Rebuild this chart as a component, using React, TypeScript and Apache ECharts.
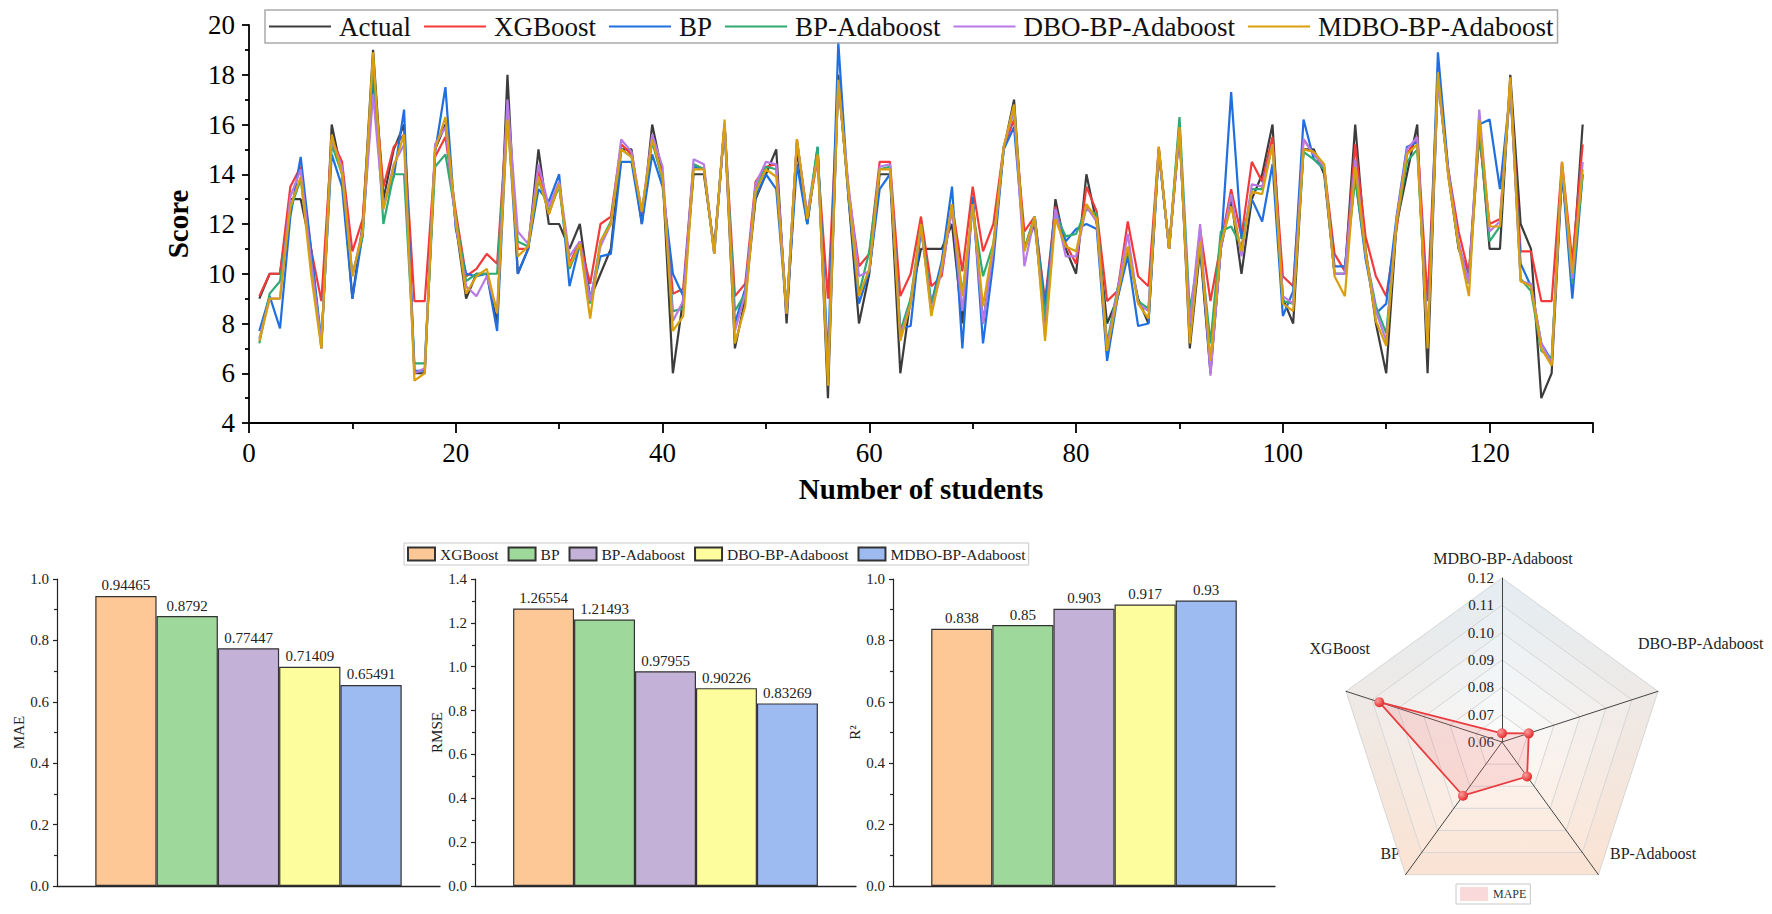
import React, { useEffect, useRef } from "react";
import * as echarts from "echarts";

const SERIF = "'Liberation Serif', 'Times New Roman', serif";

// ---- top chart: score per student (student 1..129) ----
const lineNames = ["Actual", "XGBoost", "BP", "BP-Adaboost", "DBO-BP-Adaboost", "MDBO-BP-Adaboost"];
const lineColors = ["#3c3c3c", "#f23a3a", "#1f6fe0", "#2faa72", "#b77ae6", "#d9a00c"];

const actual = [
  9, 10, 10, 13, 13, 11, 7, 16, 14, 9,
  12, 19, 13, 15, 16, 6, 6, 15, 16, 12,
  9, 10, 10, 8, 18, 10, 11, 15, 12, 12,
  11, 12, 9, 10, 11, 15, 15, 12, 16, 14,
  6, 9, 14, 14, 11, 16, 7, 9, 13, 14,
  15, 8, 15, 12, 15, 5, 18, 13, 8, 10,
  14, 14, 6, 9, 11, 11, 11, 12, 8, 13,
  8, 11, 15, 17, 11, 12, 8, 13, 11, 10,
  14, 12, 8, 9, 11, 9, 8, 15, 11, 16,
  7, 11, 6, 11, 13, 10, 13, 14, 16, 9,
  8, 15, 15, 14, 10, 10, 16, 11, 8, 6,
  12, 14, 16, 6, 18, 14, 11, 10, 16, 11,
  11, 18, 12, 11, 5, 6, 14, 10, 16,
];
const xgboost = [
  9.1, 10, 10, 13.5, 14.3, 11, 8.9, 15.4, 14.5, 10.9,
  12.2, 18.2, 13.5, 15.1, 15.6, 8.9, 8.9, 14.7, 15.5, 12.5,
  9.9, 10.2, 10.8, 10.4, 16.6, 11, 11, 14.2, 12.4, 13.6,
  10.4, 11.3, 9.6, 12.0, 12.3, 15.2, 14.8, 12.4, 15.4, 13.8,
  9.2, 9.4, 14.4, 14.2, 10.9, 16, 9.1, 9.6, 13.7, 14.3,
  14.4, 8.4, 15.4, 12.3, 14.6, 9, 17.7, 13.3, 10.3, 10.8,
  14.5, 14.5, 9.1, 10, 12.3, 9.5, 9.9, 12.8, 10.1, 13.5,
  10.9, 12, 15.1, 16.2, 11.7, 12.3, 8.9, 12.7, 11.2, 10.4,
  13.5, 12.5, 8.9, 9.3, 12.1, 9.9, 9.5, 15.1, 11, 15.7,
  7.7, 11.8, 8.9, 11.2, 13.4, 11.5, 14.5, 13.7, 15.5, 9.9,
  9.5, 15.4, 14.8, 14.3, 10.8, 10.1, 15.2, 11.5, 9.9, 9.1,
  11.8, 14.8, 15.5, 8.9, 17.9, 14.2, 11.7, 10, 15.5, 12,
  12.2, 17.6, 10.9, 10.9, 8.9, 8.9, 14.5, 10.5, 15.2,
];
const bp = [
  7.7, 9.1, 7.8, 12.3, 14.7, 11, 7.3, 14.8, 13.5, 9.0,
  11.6, 17.9, 12.8, 13.9, 16.6, 6.1, 6.1, 14.9, 17.5, 11.8,
  10, 9.9, 10, 7.7, 16.5, 10, 11, 13.4, 12.9, 14.0,
  9.5, 11.2, 9.0, 10.7, 10.8, 14.5, 14.5, 12.0, 14.8, 13.5,
  10, 9.1, 14.3, 14.2, 10.8, 16, 8.0, 9.4, 13.1, 14,
  13.4, 8.4, 14.4, 12.0, 15.1, 6.5, 19.3, 13, 8.8, 10.1,
  13.4, 14, 7.8, 7.9, 11.8, 8.8, 10.5, 13.5, 7.0, 13.1,
  7.2, 10.5, 15, 15.9, 11, 12.3, 8.7, 12.6, 11.3, 11.8,
  12, 11.8, 6.5, 9.0, 10.7, 7.9, 8.0, 14.9, 11, 15.7,
  7.7, 11.2, 6.1, 11, 17.3, 11.4, 13, 12.1, 14.4, 8.3,
  9.3, 16.2, 14.6, 14.2, 10.3, 10.3, 13.9, 10.6, 8.4, 8.8,
  12.3, 15.1, 15.3, 7.2, 18.9, 14.2, 11.1, 9.6, 16, 16.2,
  13.4, 17.4, 10.4, 9.5, 7.2, 6.5, 14.2, 9, 14,
];
const bpAdaboost = [
  7.2, 9.2, 9.7, 12.6, 13.8, 10.5, 7.2, 15.2, 14, 10,
  11.5, 18.6, 12.0, 14.0, 14.0, 6.4, 6.4, 14.3, 14.8, 12.3,
  9.7, 10, 10, 10, 16.4, 11.3, 11.1, 13.8, 12.5, 13.5,
  10.2, 11.2, 8.8, 11.3, 12.1, 15, 14.7, 12.5, 15.3, 13.8,
  8.5, 8.6, 14.4, 14.2, 10.9, 16, 8.5, 9.2, 13.4, 14.3,
  14.2, 8.5, 15.3, 12.3, 15.1, 6, 17.8, 13.2, 9.2, 10.9,
  14.2, 14.3, 7.7, 9.0, 12, 8.8, 10.2, 12.6, 9.2, 12.6,
  9.9, 11.2, 15.1, 16.6, 11, 12.3, 8.2, 12.4, 11.5, 11.6,
  12.6, 12.4, 7.2, 9.4, 11, 8.9, 8.6, 15.0, 11, 16.3,
  8.5, 11.2, 7.2, 11.7, 11.9, 11.1, 13.4, 13.4, 15.2, 8.9,
  8.8, 14.9, 14.6, 14.2, 10, 10, 13.8, 10.8, 8.7, 7.6,
  12, 14.5, 15, 7.3, 17.8, 14, 11.1, 9.6, 15.8, 11.3,
  11.9, 17.6, 9.8, 9.3, 6.9, 6.6, 14.3, 9.6, 14,
];
const dboBpAdaboost = [
  7.4, 9.0, 9.0, 13.1, 14.2, 10.5, 7.2, 15.4, 14.3, 9.9,
  11.8, 17.2, 12.6, 14.4, 15.2, 6.0, 6.2, 15.2, 15.9, 12.0,
  9.5, 9.1, 9.9, 8.5, 17, 11.7, 11.2, 14.4, 12.7, 13.7,
  10.7, 11.3, 8.9, 11.1, 12.0, 15.4, 14.9, 12.5, 15.6, 14.3,
  8.1, 8.9, 14.6, 14.4, 10.8, 16, 7.7, 9.2, 13.6, 14.5,
  14.4, 8.4, 15.3, 12.4, 14.7, 6, 17.7, 13.5, 9.9, 10.1,
  14.3, 14.4, 7.5, 8.8, 11.9, 8.5, 10.1, 12.6, 8.5, 12.8,
  8.0, 11, 15.1, 16.6, 10.3, 12.3, 7.5, 12.6, 10.7, 10.7,
  12.7, 12.1, 7.0, 9.3, 11.6, 8.8, 8.5, 15.0, 11, 15.8,
  8.0, 12, 5.9, 11, 13.2, 10.7, 13.6, 13.5, 15.2, 9.1,
  8.8, 15.4, 14.8, 14.3, 10, 10, 14.6, 10.8, 8.5, 7.3,
  12.2, 15, 15.5, 7.3, 17.8, 14.1, 11.3, 9.6, 16.6, 11.7,
  12.1, 17.6, 9.7, 9.6, 7.2, 6.4, 14.4, 9.8, 14.5,
];
const mdboBpAdaboost = [
  7.3, 9.0, 9.0, 12.7, 13.9, 10, 7.0, 15.6, 14, 9.9,
  11.7, 18.9, 12.6, 14.3, 15.6, 5.7, 6.0, 15.0, 16.3, 12.2,
  9.2, 9.9, 10.2, 8.4, 16.2, 10.7, 11.1, 13.9, 12.4, 13.6,
  10.3, 11.2, 8.2, 11.3, 12.0, 15.0, 14.7, 12.5, 15.4, 13.9,
  7.7, 8.3, 14.2, 14.2, 10.8, 16.2, 7.2, 8.7, 13.3, 14.2,
  13.9, 8.4, 15.4, 12.2, 14.8, 5.5, 17.8, 13.2, 9.1, 10.2,
  14.2, 14.2, 7.3, 8.8, 12, 8.3, 10.3, 12.8, 9.1, 12.8,
  8.7, 11.2, 15.1, 16.8, 10.9, 12.3, 7.3, 12.2, 11.1, 10.9,
  12.8, 12.2, 6.9, 9.1, 11.1, 8.8, 8.2, 15.1, 11, 15.9,
  7.2, 11.3, 6.5, 11.2, 12.7, 10.9, 13.3, 13.2, 15.2, 8.8,
  8.5, 15.0, 14.9, 14.4, 9.9, 9.1, 14.3, 10.9, 8.1, 7.1,
  12.1, 14.8, 15.2, 7.0, 18.1, 13.9, 11.1, 9.1, 16.2, 11.9,
  11.9, 17.9, 9.7, 9.5, 7.0, 6.3, 14.5, 10, 14.2,
];
const lineData = [actual, xgboost, bp, bpAdaboost, dboBpAdaboost, mdboBpAdaboost];

// ---- bottom charts: error metrics per model ----
const models = ["XGBoost", "BP", "BP-Adaboost", "DBO-BP-Adaboost", "MDBO-BP-Adaboost"];
const barColors = ["#fdc896", "#9fd89b", "#c4b1d8", "#fefd9e", "#9dbbf1"];
const mae = [0.94465, 0.8792, 0.77447, 0.71409, 0.65491];
const rmse = [1.26554, 1.21493, 0.97955, 0.90226, 0.83269];
const r2 = [0.838, 0.85, 0.903, 0.917, 0.93];
const metricNames = ["MAE", "RMSE", "R²"];
const metricMax = [1.0, 1.4, 1.0];

// radar, counter-clockwise from the top
const radarModels = ["MDBO-BP-Adaboost", "XGBoost", "BP", "BP-Adaboost", "DBO-BP-Adaboost"];
const mape = [0.0632, 0.1072, 0.0843, 0.0756, 0.0703];
const mapeMin = 0.06;
const mapeMax = 0.12;

function TopChart() {
  const ref = useRef<HTMLDivElement>(null);

  useEffect(() => {
    if (!ref.current) return;
    const chart = echarts.init(ref.current, undefined, { renderer: "svg" });
    const axisLine = { lineStyle: { color: "#000", width: 1.8 } };

    chart.setOption({
      animation: false,
      backgroundColor: "#fff",
      grid: { left: 249, top: 25, width: 1344, height: 398 },
      legend: {
        data: lineNames,
        left: 265,
        top: 10,
        padding: [3, 4, 3, 3],
        itemWidth: 62,
        itemHeight: 14,
        itemGap: 12,
        borderColor: "#aaa",
        borderWidth: 1.5,
        selectedMode: false,
        // line-only keys, no marker dot
        itemStyle: { opacity: 0 },
        textStyle: { fontFamily: SERIF, fontSize: 27, color: "#111", padding: [0, 0, 0, 3] },
      },
      xAxis: {
        type: "value",
        min: 0,
        max: 130,
        interval: 20,
        name: "Number of students",
        nameLocation: "middle",
        nameGap: 51,
        nameTextStyle: { fontFamily: SERIF, fontSize: 29, fontWeight: "bold", color: "#000" },
        axisLine: { show: true, ...axisLine },
        axisTick: { show: true, length: 10, ...axisLine },
        minorTick: { show: true, splitNumber: 2, length: 6, ...axisLine },
        splitLine: { show: false },
        axisLabel: { fontFamily: SERIF, fontSize: 27, color: "#000", margin: 16, showMaxLabel: false },
      },
      yAxis: {
        type: "value",
        min: 4,
        max: 20,
        interval: 2,
        name: "Score",
        nameLocation: "middle",
        nameGap: 57,
        nameTextStyle: { fontFamily: SERIF, fontSize: 29, fontWeight: "bold", color: "#000" },
        axisLine: { show: true, ...axisLine },
        axisTick: { show: true, length: 7, ...axisLine },
        minorTick: { show: true, splitNumber: 2, length: 4, ...axisLine },
        splitLine: { show: false },
        axisLabel: { fontFamily: SERIF, fontSize: 27, color: "#000", margin: 14 },
      },
      series: lineNames.map((name, k) => ({
        type: "line",
        name,
        data: lineData[k].map((v, i) => [i + 1, v]),
        symbol: "none",
        color: lineColors[k],
        lineStyle: { color: lineColors[k], width: 2.2 },
      })),
    });

    return () => chart.dispose();
  }, []);

  return <div ref={ref} style={{ position: "absolute", left: 0, top: 0, width: 1772, height: 530 }} />;
}

function BottomChart() {
  const ref = useRef<HTMLDivElement>(null);

  useEffect(() => {
    if (!ref.current) return;
    const chart = echarts.init(ref.current, undefined, { renderer: "svg" });
    const metrics = [mae, rmse, r2];
    const gridLeft = [57, 475, 893];
    const gridWidth = [383, 381, 382];
    const dark = { color: "#222", width: 1.2 };

    const ringFills = [0.2, 0.32, 0.44, 0.56, 0.68, 0.8].map(
      (a) =>
        new echarts.graphic.LinearGradient(0, 0, 0, 1, [
          { offset: 0, color: `rgba(222,233,240,${a})` },
          { offset: 1, color: `rgba(250,220,200,${a})` },
        ])
    );

    // radar names placed where the original figure put them
    const radarNameSpots = [
      { x: 1503, y: 28, align: "center" },
      { x: 1370, y: 118, align: "right" },
      { x: 1400, y: 323, align: "right" },
      { x: 1610, y: 323, align: "left" },
      { x: 1638, y: 113, align: "left" },
    ];

    chart.setOption({
      animation: false,
      backgroundColor: "#fff",
      grid: gridLeft.map((left, i) => ({ left, top: 49, width: gridWidth[i], height: 307 })),
      legend: [
        {
          data: models,
          left: 404,
          top: 13,
          padding: [3, 3],
          icon: "rect",
          itemWidth: 27,
          itemHeight: 13,
          itemGap: 9,
          borderColor: "#c8c8c8",
          borderWidth: 1,
          selectedMode: false,
          textStyle: { fontFamily: SERIF, fontSize: 15.5, color: "#222" },
        },
        {
          data: ["MAPE"],
          left: 1456,
          top: 354,
          padding: [3, 4],
          icon: "rect",
          itemWidth: 28,
          itemHeight: 14,
          borderColor: "#c8c8c8",
          borderWidth: 1,
          selectedMode: false,
          itemStyle: { color: "rgba(245,185,190,0.55)", borderWidth: 0 },
          textStyle: { fontFamily: SERIF, fontSize: 12, color: "#333" },
        },
      ],
      xAxis: metrics.map((_, i) => ({
        gridIndex: i,
        type: "category",
        data: [""],
        axisLine: { show: true, lineStyle: { color: "#222", width: 1.3 } },
        axisTick: { show: false },
        axisLabel: { show: false },
      })),
      yAxis: metrics.map((_, i) => ({
        gridIndex: i,
        type: "value",
        min: 0,
        max: metricMax[i],
        interval: 0.2,
        name: metricNames[i],
        nameLocation: "middle",
        nameGap: 31,
        nameTextStyle: { fontFamily: SERIF, fontSize: 15, color: "#222" },
        axisLine: { show: true, lineStyle: dark },
        axisTick: { show: true, length: 4, lineStyle: dark },
        minorTick: { show: true, splitNumber: 2, length: 3, lineStyle: dark },
        splitLine: { show: false },
        axisLabel: {
          fontFamily: SERIF,
          fontSize: 15,
          color: "#222",
          margin: 8,
          formatter: (v: number) => v.toFixed(1),
        },
      })),
      radar: {
        center: [1502, 212],
        radius: 164,
        startAngle: 90,
        splitNumber: 6,
        indicator: radarModels.map((name, k) => ({
          name,
          min: mapeMin,
          max: mapeMax,
          ...(k === 0 ? { axisLabel: { show: true } } : {}),
        })),
        axisName: { show: false },
        axisLine: { lineStyle: { color: "#444", width: 1 } },
        axisTick: { show: false },
        axisLabel: {
          show: false,
          fontFamily: SERIF,
          fontSize: 15,
          color: "#222",
          margin: 8,
          formatter: (v: number) => v.toFixed(2),
        },
        splitLine: { lineStyle: { color: "#d6d6d6", width: 1 } },
        splitArea: { show: true, areaStyle: { color: ringFills } },
      },
      graphic: radarModels.map((name, k) => ({
        type: "text",
        x: radarNameSpots[k].x,
        y: radarNameSpots[k].y,
        style: {
          text: name,
          fill: "#222",
          fontFamily: SERIF,
          fontSize: 16,
          align: radarNameSpots[k].align,
          verticalAlign: "middle",
        },
      })),
      series: [
        ...metrics.flatMap((values, gi) =>
          models.map((name, k) => ({
            type: "bar",
            name,
            xAxisIndex: gi,
            yAxisIndex: gi,
            data: [values[k]],
            barGap: "0%",
            barCategoryGap: "20%",
            itemStyle: { color: barColors[k], borderColor: "#333", borderWidth: 1.2 },
            label: {
              show: true,
              position: "top",
              distance: 3,
              fontFamily: SERIF,
              fontSize: 15,
              color: "#222",
            },
          }))
        ),
        {
          type: "radar",
          name: "MAPE",
          data: [{ value: mape, name: "MAPE" }],
          symbol: "circle",
          symbolSize: 10,
          lineStyle: { color: "#e8383c", width: 1.8 },
          itemStyle: {
            color: new echarts.graphic.RadialGradient(0.35, 0.35, 0.7, [
              { offset: 0, color: "#ff9d9d" },
              { offset: 1, color: "#e02626" },
            ]),
          },
          areaStyle: { color: "rgba(238,110,110,0.28)" },
        },
      ],
    });

    return () => chart.dispose();
  }, []);

  return <div ref={ref} style={{ position: "absolute", left: 0, top: 530, width: 1772, height: 384 }} />;
}

export default function App() {
  return (
    <div style={{ position: "fixed", left: 0, top: 0, width: 1772, height: 914, background: "#fff" }}>
      <TopChart />
      <BottomChart />
    </div>
  );
}
